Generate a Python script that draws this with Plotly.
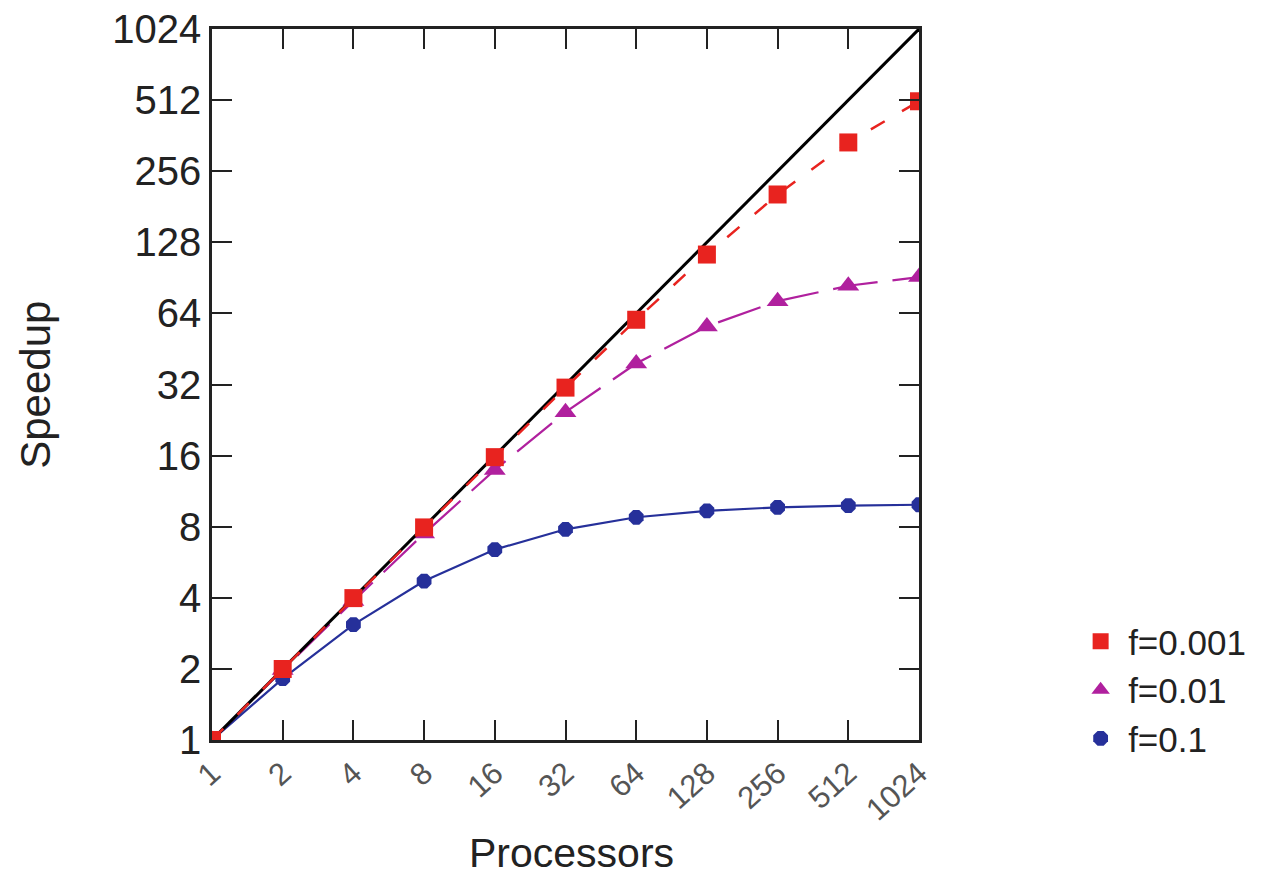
import plotly.graph_objects as go
import math

processors = [1, 2, 4, 8, 16, 32, 64, 128, 256, 512, 1024]
tick_labels = ["1", "2", "4", "8", "16", "32", "64", "128", "256", "512", "1024"]
ideal = [1, 2, 4, 8, 16, 32, 64, 128, 256, 512, 1024]
speedup_f0001 = [1, 1.998, 3.988, 7.944, 15.76, 31.04, 60.15, 113.6, 204.0, 338.8, 506.2]
speedup_f001 = [1, 1.98, 3.88, 7.48, 13.91, 24.43, 39.26, 56.39, 72.11, 83.80, 91.18]
speedup_f01 = [1, 1.82, 3.08, 4.71, 6.40, 7.80, 8.77, 9.34, 9.66, 9.83, 9.91]

RED = "#e8231f"
MAG = "#b0209e"
BLUE = "#26309a"
FONT = "Liberation Sans, Arial, sans-serif"

fig = go.Figure()
fig.add_trace(go.Scatter(x=processors, y=speedup_f01, mode="lines+markers",
                         line=dict(color=BLUE, width=2.2),
                         marker=dict(symbol="octagon", size=16, color=BLUE),
                         showlegend=False))
fig.add_trace(go.Scatter(x=processors, y=speedup_f001, mode="lines+markers",
                         line=dict(color=MAG, width=2.2, dash="45px,15px"),
                         marker=dict(symbol="triangle-up", size=19, color=MAG),
                         showlegend=False))
fig.add_trace(go.Scatter(x=processors, y=ideal, mode="lines",
                         line=dict(color="black", width=3), showlegend=False))
fig.add_trace(go.Scatter(x=processors, y=speedup_f0001, mode="lines+markers",
                         line=dict(color=RED, width=2.5, dash="16px,20px"),
                         marker=dict(symbol="square", size=18, color=RED),
                         showlegend=False))

# legend-only entries (markers only)
fig.add_trace(go.Scatter(x=[None], y=[None], mode="markers", name="f=0.001",
                         marker=dict(symbol="square", size=22, color=RED)))
fig.add_trace(go.Scatter(x=[None], y=[None], mode="markers", name="f=0.01",
                         marker=dict(symbol="triangle-up", size=20, color=MAG)))
fig.add_trace(go.Scatter(x=[None], y=[None], mode="markers", name="f=0.1",
                         marker=dict(symbol="octagon", size=18, color=BLUE)))

axis_common = dict(
    type="log",
    range=[0, math.log10(1024)],
    tickvals=processors,
    ticktext=tick_labels,
    ticks="inside",
    ticklen=20,
    tickwidth=2,
    tickcolor="#222",
    showline=True,
    linecolor="#222",
    linewidth=2.5,
    mirror="ticks",
    showgrid=False,
    zeroline=False,
    automargin=False,
    ticklabeloverflow="allow",
)

fig.update_xaxes(**axis_common, tickangle=-42,
                 tickfont=dict(family=FONT, size=31, color="#555"))
fig.update_yaxes(**axis_common,
                 tickfont=dict(family=FONT, size=40, color="#222"))

# the page body adds an 8px offset, so margins are reduced by 8px on left/top
fig.update_layout(
    width=1286, height=874,
    margin=dict(l=204, r=375, t=21, b=142),
    plot_bgcolor="white",
    paper_bgcolor="white",
    font=dict(family=FONT, color="#222"),
    legend=dict(x=1.218, y=0.18, xanchor="left", yanchor="top",
                font=dict(family=FONT, size=35, color="#222"),
                itemsizing="trace", itemwidth=45, tracegroupgap=0),
    annotations=[
        dict(text="Speedup", xref="paper", yref="paper", x=-0.25, y=0.5,
             textangle=-90, showarrow=False, xanchor="center", yanchor="middle",
             font=dict(family=FONT, size=42, color="#222")),
        dict(text="Processors", xref="paper", yref="paper", x=0.508, y=-0.124,
             showarrow=False, xanchor="center", yanchor="top",
             font=dict(family=FONT, size=41, color="#222")),
    ],
)

fig.write_html("out.html")
